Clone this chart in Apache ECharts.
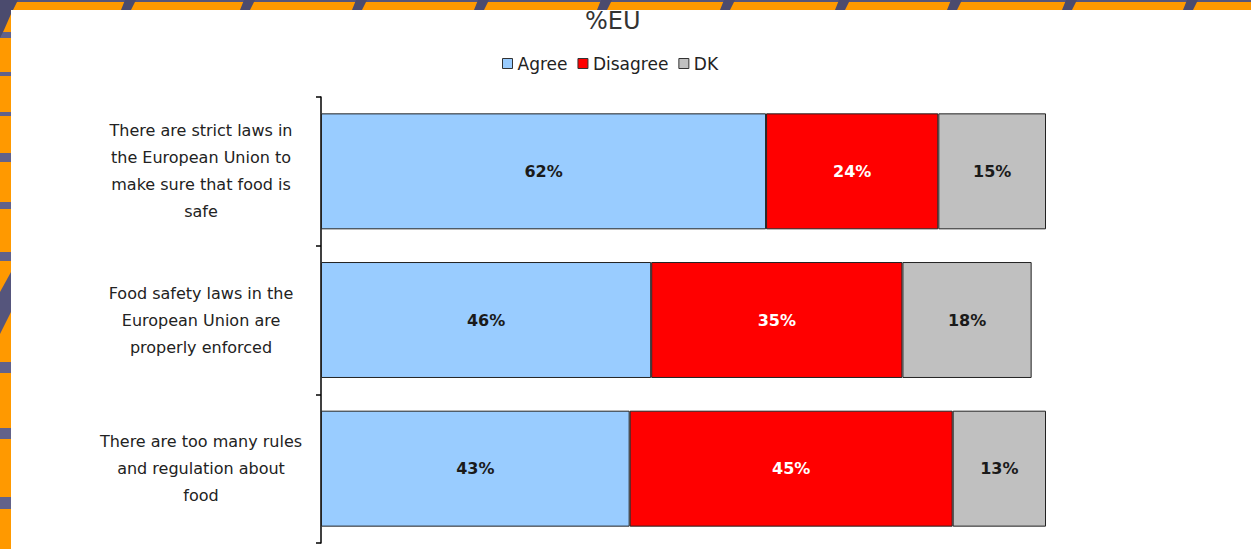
<!DOCTYPE html>
<html>
<head>
<meta charset="utf-8">
<title>%EU</title>
<script src="https://cdn.jsdelivr.net/npm/echarts@6/dist/echarts.min.js"></script>
<style>
    html, body { margin: 0; padding: 0; background: #ff9900; }
    #food_laws { width: 1251px; height: 549px; }
</style>
</head>
<body>
<div id="food_laws"></div>
<script>

// Chart data
// ------------------------------

var categories = [
    'There are strict laws in\nthe European Union to\nmake sure that food is\nsafe',
    'Food safety laws in the\nEuropean Union are\nproperly enforced',
    'There are too many rules\nand regulation about\nfood'
];
var agreeValues = [62, 46, 43];
var disagreeValues = [24, 35, 45];
var dkValues = [15, 18, 13];

// Frame decoration (orange border with slate stripes)
var topSlants = [2, 121, 240, 352, 474, 597, 720, 835, 947, 1062, 1183];
var leftBars = [[32, 38], [72, 76], [112, 116], [153, 162], [202, 209], [252, 261], [362, 373], [428, 439], [497, 509]];


// Setup module
// ------------------------------

var EchartsFoodLaws = function() {

    var _foodLawsChart = function() {
        if (typeof echarts == 'undefined') {
            console.warn('Warning - echarts.min.js is not loaded.');
            return;
        }

        var chart_element = document.getElementById('food_laws');
        if (!chart_element) return;

        var chart = echarts.init(chart_element, null, { renderer: 'svg' });

        // Frame graphics
        var slate = '#55557c';
        var frame = [
            { type: 'rect', shape: { x: 0, y: 0, width: 1251, height: 2 }, style: { fill: slate }, z: -10 }
        ];
        topSlants.forEach(function(x) {
            frame.push({
                type: 'polygon',
                shape: { points: [[x + 4, 0], [x + 15, 0], [x + 10, 10], [x, 10]] },
                style: { fill: '#4b4b6e' },
                z: -10
            });
        });
        leftBars.forEach(function(b) {
            frame.push({
                type: 'rect',
                shape: { x: 0, y: b[0], width: 11, height: b[1] - b[0] },
                style: { fill: '#62628a' },
                z: -10
            });
        });
        frame.push({
            type: 'polygon',
            shape: { points: [[0, 0], [18, 0], [11, 14], [4, 30], [0, 38]] },
            style: { fill: '#4b4b6e' },
            z: -10
        });
        frame.push({
            type: 'polygon',
            shape: { points: [[11, 272], [11, 312], [0, 334], [0, 292]] },
            style: { fill: '#55557c' },
            z: -10
        });
        frame.push({
            type: 'rect',
            shape: { x: 11, y: 10, width: 1240, height: 539 },
            style: { fill: '#ffffff' },
            z: -5
        });

        var barLabel = function(color) {
            return {
                show: true,
                position: 'inside',
                color: color,
                fontFamily: 'DejaVu Sans',
                fontWeight: 'bold',
                fontSize: 16,
                formatter: '{c}%'
            };
        };

        var barStyle = function(color) {
            return {
                color: color,
                borderColor: '#222222',
                borderWidth: 1
            };
        };

        chart.setOption({

            animation: false,

            graphic: frame,

            // Title
            title: {
                text: '%EU',
                left: 580,
                top: 4,
                textStyle: {
                    fontFamily: 'DejaVu Sans',
                    fontSize: 24,
                    fontWeight: 'normal',
                    color: '#333333'
                }
            },

            // Legend
            legend: {
                left: 497,
                top: 50,
                itemWidth: 10,
                itemHeight: 10,
                itemGap: 10,
                selectedMode: false,
                icon: 'rect',
                itemStyle: {
                    borderColor: '#333333',
                    borderWidth: 1
                },
                textStyle: {
                    fontFamily: 'DejaVu Sans',
                    fontSize: 17,
                    color: '#222222'
                }
            },

            grid: {
                left: 321,
                top: 97,
                width: 725,
                height: 446
            },

            xAxis: {
                type: 'value',
                min: 0,
                max: 101,
                show: false
            },

            yAxis: {
                type: 'category',
                data: categories,
                inverse: true,
                axisLine: { show: true, lineStyle: { color: '#000000', width: 1.5 } },
                axisTick: { show: true, inside: false, length: 5, lineStyle: { color: '#000000', width: 1.5 } },
                axisLabel: {
                    align: 'center',
                    margin: 120,
                    fontFamily: 'DejaVu Sans',
                    fontSize: 16,
                    lineHeight: 27,
                    color: '#222222'
                }
            },

            series: [
                {
                    name: 'Agree',
                    type: 'bar',
                    stack: 'total',
                    barCategoryGap: '22%',
                    data: agreeValues,
                    itemStyle: barStyle('#99ccff'),
                    label: barLabel('#1a1a1a')
                },
                {
                    name: 'Disagree',
                    type: 'bar',
                    stack: 'total',
                    data: disagreeValues,
                    itemStyle: barStyle('#ff0000'),
                    label: barLabel('#ffffff')
                },
                {
                    name: 'DK',
                    type: 'bar',
                    stack: 'total',
                    data: dkValues,
                    itemStyle: barStyle('#c0c0c0'),
                    label: barLabel('#1a1a1a')
                }
            ]
        });

        window.addEventListener('resize', function() {
            chart.resize();
        });
    };

    return {
        init: function() {
            _foodLawsChart();
        }
    }
}();


// Initialize module
// ------------------------------

document.addEventListener('DOMContentLoaded', function() {
    EchartsFoodLaws.init();
});
</script>
</body>
</html>
